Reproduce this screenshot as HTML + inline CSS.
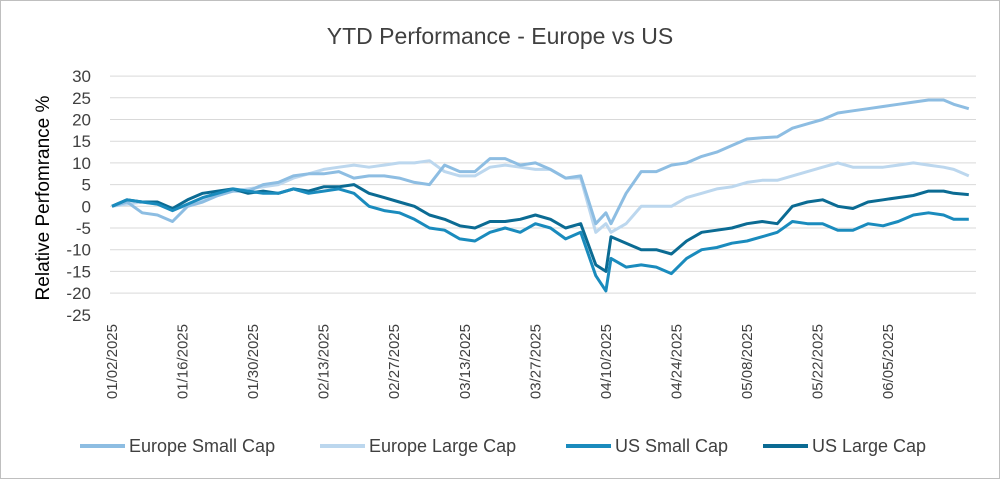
<!DOCTYPE html>
<html><head><meta charset="utf-8"><style>
html,body{margin:0;padding:0;background:#fff}
svg{display:block;font-family:"Liberation Sans",sans-serif}
</style></head><body>
<svg id="chart" width="1000" height="479" viewBox="0 0 1000 479">
<rect x="0.5" y="0.5" width="999" height="478" fill="#fff" stroke="#bfbfbf"/>
<text x="500" y="44" text-anchor="middle" font-size="23" fill="#404040">YTD Performance - Europe vs US</text>
<text transform="translate(49,198) rotate(-90)" text-anchor="middle" font-size="19" fill="#000">Relative Perfomrance %</text>
<g id="grid"></g><g id="ylabels"></g><g id="xlabels"></g><g id="series"></g><g id="legend"></g>
</svg>
<script>
const days=[0,3,6,9,12,15,18,21,24,27,30,33,36,39,42,45,48,51,54,57,60,63,66,69,72,75,78,81,84,87,90,93,96,98,99,102,105,108,111,114,117,120,123,126,129,132,135,138,141,144,147,150,153,156,159,162,165,167,170];
const europeSmall=[0,1,-1.5,-2,-3.5,0,1,2.5,3.5,3.5,5,5.5,7,7.5,7.5,8,6.5,7,7,6.5,5.5,5,9.5,8,8,11,11,9.5,10,8.5,6.5,7,-4,-1.5,-4,3,8,8,9.5,10,11.5,12.5,14,15.5,15.8,16,18,19,20,21.5,22,22.5,23,23.5,24,24.5,24.5,23.5,22.5];
const europeLarge=[0,0.5,1,0.5,-0.5,0,1.5,2.5,3.5,4,4.5,5,6.5,7.5,8.5,9,9.5,9,9.5,10,10,10.5,8,7,7,9,9.5,9,8.5,8.5,6.5,6.5,-6,-4,-6,-4,0,0,0,2,3,4,4.5,5.5,6,6,7,8,9,10,9,9,9,9.5,10,9.5,9,8.5,7];
const usSmall=[0,1.5,1,0.5,-1,0.5,2,3,4,3.5,3,3,4,3,3.5,4,3,0,-1,-1.5,-3,-5,-5.5,-7.5,-8,-6,-5,-6,-4,-5,-7.5,-6,-16,-19.5,-12,-14,-13.5,-14,-15.5,-12,-10,-9.5,-8.5,-8,-7,-6,-3.5,-4,-4,-5.5,-5.5,-4,-4.5,-3.5,-2,-1.5,-2,-3,-3];
const usLarge=[0,1.5,1,1,-0.5,1.5,3,3.5,4,3,3.5,3,4,3.5,4.5,4.5,5,3,2,1,0,-2,-3,-4.5,-5,-3.5,-3.5,-3,-2,-3,-5,-4,-13.5,-15,-7,-8.5,-10,-10,-11,-8,-6,-5.5,-5,-4,-3.5,-4,0,1,1.5,0,-0.5,1,1.5,2,2.5,3.5,3.5,3,2.7];
const yTicks=[30,25,20,15,10,5,0,-5,-10,-15,-20,-25];
const xTickLabels=["01/02/2025","01/16/2025","01/30/2025","02/13/2025","02/27/2025","03/13/2025","03/27/2025","04/10/2025","04/24/2025","05/08/2025","05/22/2025","06/05/2025"];
const xTickDays=[0,14,28,42,56,70,84,98,112,126,140,154];
const seriesNames=["Europe Small Cap","Europe Large Cap","US Small Cap","US Large Cap"];
const seriesColors=["#8dbde2","#bcd7ee","#1a8bbd","#0b6b93"];
const seriesData=[europeSmall,europeLarge,usSmall,usLarge];
const seriesKeys=["europe-small-cap","europe-large-cap","us-small-cap","us-large-cap"];

const NS="http://www.w3.org/2000/svg";
const X=d=>112+d*5.04;
const Y=v=>206.3-v*4.34;
function mk(tag,attrs,parent){const e=document.createElementNS(NS,tag);for(const k in attrs)e.setAttribute(k,attrs[k]);parent.appendChild(e);return e;}
const grid=document.getElementById('grid'),yl=document.getElementById('ylabels'),xl=document.getElementById('xlabels'),sg=document.getElementById('series'),lg=document.getElementById('legend');
yTicks.forEach(t=>{
  if(t>-25){const l=mk('line',{x1:110,x2:976,y1:Y(t),y2:Y(t),stroke:'#d9d9d9','stroke-width':1},grid);
  
  }
  const tx=mk('text',{x:91,y:Y(t)+6,'text-anchor':'end','font-size':17,fill:'#404040'},yl);
  tx.textContent=t;
  
  
});
xTickLabels.forEach((s,i)=>{
  const x=X(xTickDays[i])+5;
  const tx=mk('text',{transform:`translate(${x},324) rotate(-90)`,'text-anchor':'end','font-size':15,fill:'#404040'},xl);
  tx.textContent=s;
  
  
});
[1,0,3,2].forEach(k=>{
  const pts=seriesData[k].map((v,i)=>X(days[i]).toFixed(1)+','+Y(v).toFixed(1)).join(' ');
  const p=mk('polyline',{points:pts,fill:'none',stroke:seriesColors[k],'stroke-width':3,'stroke-linejoin':'round'},sg);
  
  
});
const legX=[80,320,566,763];
seriesNames.forEach((n,k)=>{
  const g=mk('g',{},lg);
  
  
  mk('line',{x1:legX[k],x2:legX[k]+45,y1:446,y2:446,stroke:seriesColors[k],'stroke-width':4},g);
  const t=mk('text',{x:legX[k]+49,y:452,'font-size':18,fill:'#404040'},g);
  t.textContent=n;
});
</script>
</body></html>
